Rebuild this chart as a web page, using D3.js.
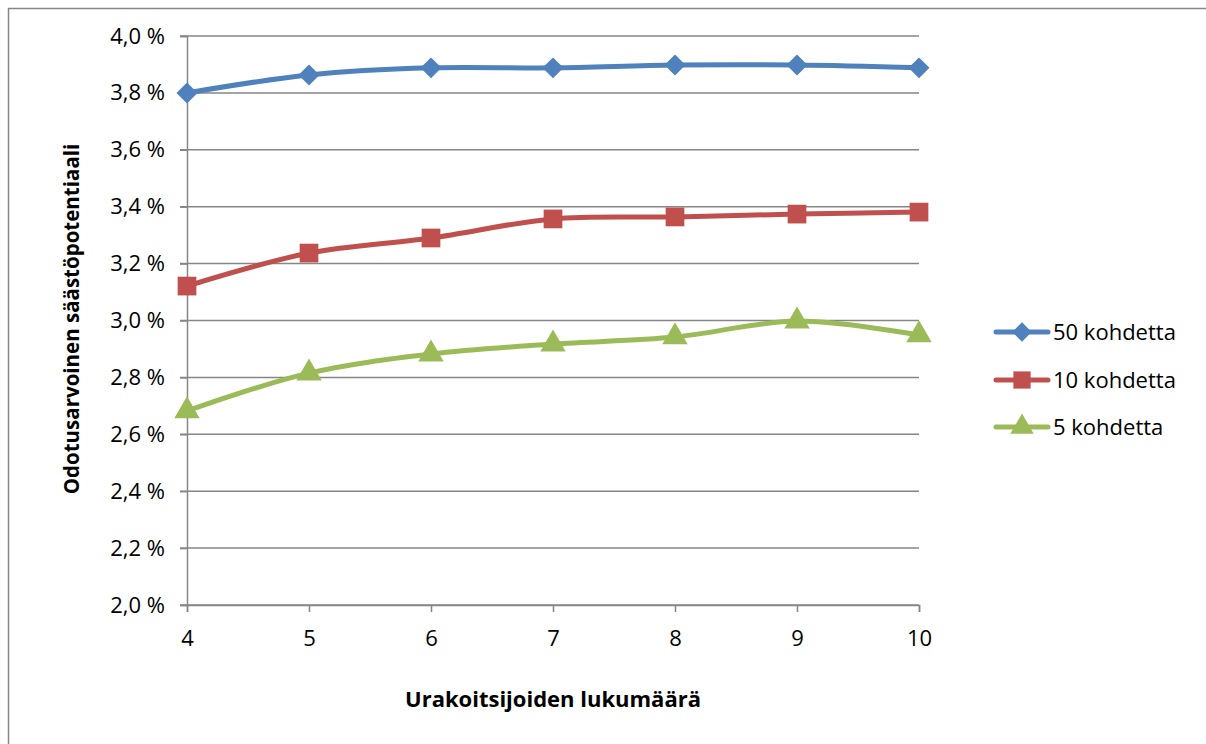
<!DOCTYPE html>
<html><head><meta charset="utf-8">
<script src="https://cdn.jsdelivr.net/npm/d3@7"></script>
<style>body{margin:0;background:#fff}svg{display:block}text{font-family:"Open Sans",sans-serif;fill:#000}</style>
</head><body><svg id="c" width="1206" height="744"></svg>
<script>
const categories = [4, 5, 6, 7, 8, 9, 10];
const series50 = [3.800, 3.863, 3.888, 3.888, 3.898, 3.898, 3.888];
const series10 = [3.121, 3.237, 3.290, 3.357, 3.364, 3.374, 3.381];
const series5  = [2.682, 2.815, 2.882, 2.917, 2.942, 2.998, 2.949];
const seriesNames = ["50 kohdetta", "10 kohdetta", "5 kohdetta"];
const yTicks = [2.0, 2.2, 2.4, 2.6, 2.8, 3.0, 3.2, 3.4, 3.6, 3.8, 4.0];
const xTitle = "Urakoitsijoiden lukumäärä";
const yTitle = "Odotusarvoinen säästöpotentiaali";

const colors = ["#4F81BD", "#C0504D", "#9BBB59"];
const symbols = [d3.symbolDiamond2 || d3.symbolDiamond, d3.symbolSquare, d3.symbolTriangle];
const FONT = "'Open Sans',sans-serif";
const svg = d3.select("#c");

svg.append("rect").attr("x", 8.5).attr("y", 8.5).attr("width", 1220).attr("height", 760)
  .attr("fill", "none").attr("stroke", "#868686").attr("stroke-width", 1.5);

const x = d3.scaleLinear().domain([4, 10]).range([187, 919]);
const y = d3.scaleLinear().domain([2.0, 4.0]).range([605, 36]);

// gridlines
svg.append("g").selectAll("line").data(yTicks).join("line")
  .attr("x1", 180).attr("x2", 919).attr("y1", d => y(d)).attr("y2", d => y(d))
  .attr("stroke", "#868686").attr("stroke-width", 1.5);

// axes
const yAxis = d3.axisLeft(y).tickValues(yTicks).tickSize(7).tickPadding(15)
  .tickFormat(d => d3.format(".1f")(d).replace(".", ",") + " %");
const gy = svg.append("g").attr("transform", "translate(187,0)").call(yAxis);
gy.selectAll("path,line").attr("stroke", "#868686").attr("stroke-width", 1.5);
gy.selectAll("text").attr("font-size", 22).style("font-family", FONT);

const xAxis = d3.axisBottom(x).tickValues(categories).tickSize(7).tickPadding(18).tickSizeOuter(7)
  .tickFormat(d3.format("d"));
const gx = svg.append("g").attr("transform", "translate(0,605)").call(xAxis);
gx.selectAll("path,line").attr("stroke", "#868686").attr("stroke-width", 1.5);
gx.selectAll("text").attr("font-size", 22).style("font-family", FONT);

// titles
svg.append("text").attr("x", 553).attr("y", 707).attr("text-anchor", "middle")
  .attr("font-size", 22).attr("font-weight", "bold").text(xTitle);
svg.append("text").attr("transform", "translate(79,319) rotate(-90)").attr("text-anchor", "middle")
  .attr("font-size", 20.5).attr("font-weight", "bold").text(yTitle);

// series
const allSeries = [series50, series10, series5];
const line = d3.line().x((d, i) => x(categories[i])).y(d => y(d)).curve(d3.curveCatmullRom.alpha(0.5));
const symSizes = [280, 350, 280];
allSeries.forEach((s, k) => {
  svg.append("path").datum(s).attr("d", line).attr("fill", "none")
    .attr("stroke", colors[k]).attr("stroke-width", 5).attr("stroke-linecap", "round");
  svg.append("g").selectAll("path").data(s).join("path")
    .attr("transform", (d, i) => `translate(${x(categories[i])},${y(d)})`)
    .attr("d", d3.symbol().type(symbols[k]).size(symSizes[k]))
    .attr("fill", colors[k]);
});

// legend
const legY = [332, 380, 427];
seriesNames.forEach((n, k) => {
  const g = svg.append("g").attr("transform", `translate(0,${legY[k]})`);
  g.append("line").attr("x1", 996).attr("x2", 1048).attr("y1", 0).attr("y2", 0)
    .attr("stroke", colors[k]).attr("stroke-width", 5).attr("stroke-linecap", "round");
  g.append("path").attr("transform", "translate(1022,0)")
    .attr("d", d3.symbol().type(symbols[k]).size(symSizes[k] * 0.85)).attr("fill", colors[k]);
  g.append("text").attr("x", 1053).attr("y", 8).attr("font-size", 22).text(n);
});
</script></body></html>
